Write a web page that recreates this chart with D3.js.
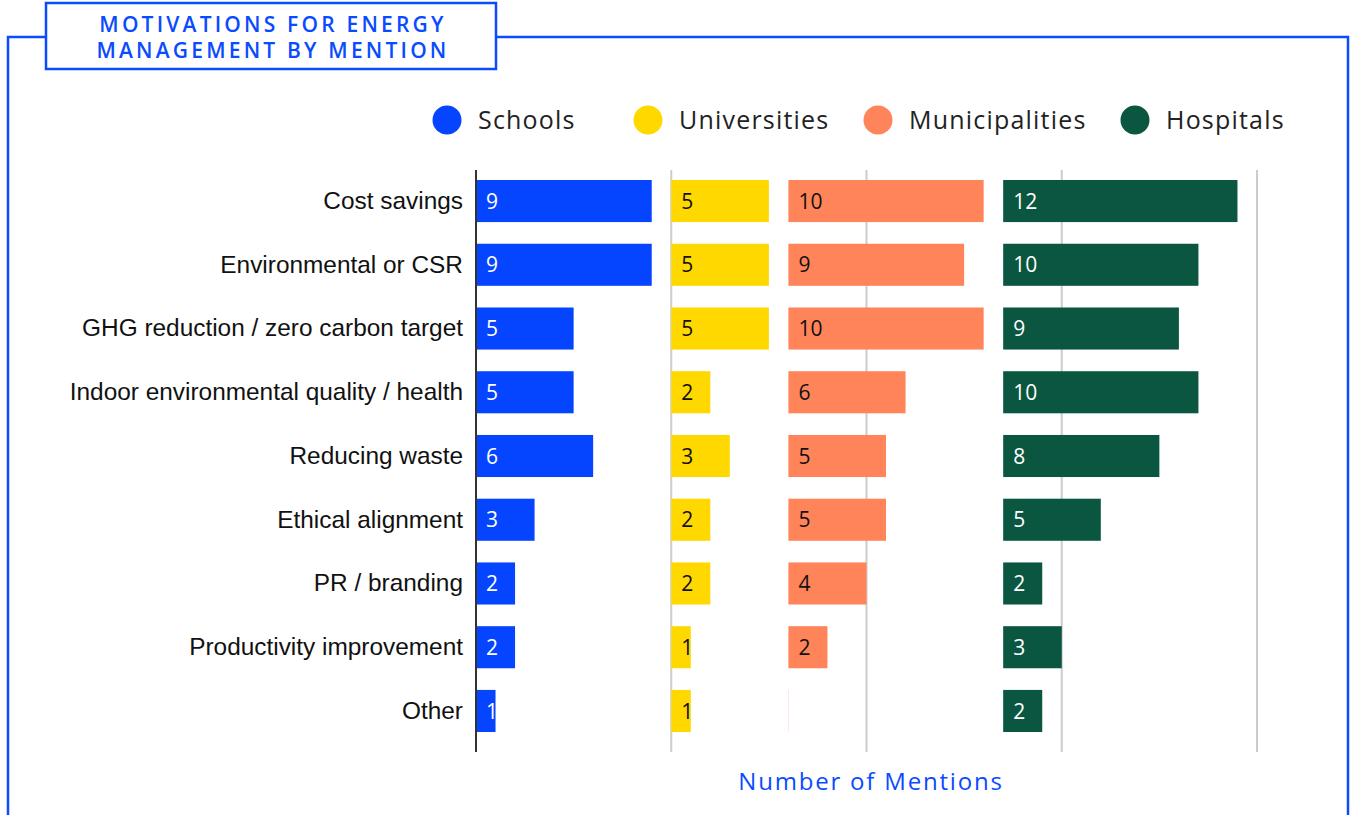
<!DOCTYPE html>
<html>
<head>
<meta charset="utf-8">
<script src="https://cdn.jsdelivr.net/npm/d3@7"></script>
<style>
  body { margin: 0; background: #fff; }
  svg { display: block; }
</style>
</head>
<body>
<svg class="chart"></svg>
<script>
const categories = [
  "Cost savings",
  "Environmental or CSR",
  "GHG reduction / zero carbon target",
  "Indoor environmental quality / health",
  "Reducing waste",
  "Ethical alignment",
  "PR / branding",
  "Productivity improvement",
  "Other"
]
const groups = ["Schools", "Universities", "Municipalities", "Hospitals"]
const schools = [9, 9, 5, 5, 6, 3, 2, 2, 1]
const universities = [5, 5, 5, 2, 3, 2, 2, 1, 1]
const municipalities = [10, 9, 10, 6, 5, 5, 4, 2, 0]
const hospitals = [12, 10, 9, 10, 8, 5, 2, 3, 2]
const xTicks = [0, 10, 20, 30, 40]

const colors = ["#0645ff", "#ffd800", "#ff845a", "#0b5640"]
const textColors = ["#fff", "#111", "#111", "#fff"]
const blue = "#0a4bff"

const width = 1351
const height = 815
const margin = {top: 170, left: 476, right: 94, bottom: 63}

const svg = d3.select(".chart")
  .attr("width", width)
  .attr("height", height)

// frame + title box
svg.append("path")
  .attr("d", `M8,815 V37 H1348 V815`)
  .attr("fill", "none")
  .attr("stroke", blue)
  .attr("stroke-width", 2.5)

svg.append("rect")
  .attr("x", 46).attr("y", 3)
  .attr("width", 450).attr("height", 66)
  .attr("fill", "#fff")
  .attr("stroke", blue)
  .attr("stroke-width", 2.5)

const titleLines = ["MOTIVATIONS FOR ENERGY", "MANAGEMENT BY MENTION"]
svg.append("g")
  .selectAll("text.title")
  .data(titleLines)
  .enter()
  .append("text")
  .classed("title", true)
  .attr("x", 273)
  .attr("y", (d, i) => 32 + i * 26)
  .attr("text-anchor", "middle")
  .attr("fill", blue)
  .style("font-family", "'Open Sans', sans-serif")
  .style("font-weight", 600)
  .style("font-size", "21px")
  .style("letter-spacing", "3.2px")
  .text(d => d)

// each group starts after the previous group's max + 1
const series = [schools, universities, municipalities, hospitals]
let offsets = []
let acc = 0
series.forEach(s => {
  offsets.push(acc)
  acc += d3.max(s) + 1
})

let data = []
series.forEach((s, gi) => {
  s.forEach((v, i) => {
    data.push({group: gi, category: categories[i], value: v, start: offsets[gi]})
  })
})

// Scales
const xScale = d3.scaleLinear()
  .domain([0, 40])
  .range([margin.left, width - margin.right])

const yScale = d3.scaleBand()
  .domain(categories)
  .range([margin.top, height - margin.bottom - 10])
  .paddingInner(0.34)
  .paddingOuter(0.157)

// gridlines
svg.append("g")
  .selectAll("line.grid")
  .data(xTicks.slice(1))
  .enter()
  .append("line")
  .classed("grid", true)
  .attr("x1", d => xScale(d))
  .attr("x2", d => xScale(d))
  .attr("y1", margin.top)
  .attr("y2", height - margin.bottom)
  .attr("stroke", "#cccccc")
  .attr("stroke-width", 2)

// bars
svg.append("g")
  .selectAll("rect.bar")
  .data(data)
  .enter()
  .append("rect")
  .classed("bar", true)
  .attr("x", d => xScale(d.start))
  .attr("y", d => yScale(d.category))
  .attr("width", d => Math.max(xScale(d.start + d.value) - xScale(d.start), d.value === 0 ? 0.6 : 0))
  .attr("height", yScale.bandwidth())
  .attr("fill", d => colors[d.group])
  .attr("opacity", d => d.value === 0 ? 0.3 : 1)

// bar labels
svg.append("g")
  .selectAll("text.val")
  .data(data.filter(d => d.value > 0))
  .enter()
  .append("text")
  .classed("val", true)
  .attr("x", d => xScale(d.start) + 10)
  .attr("y", d => yScale(d.category) + yScale.bandwidth() / 2)
  .attr("dy", "0.36em")
  .attr("fill", d => textColors[d.group])
  .style("font-family", "'Open Sans', sans-serif")
  .style("font-size", "21px")
  .text(d => d.value)

// y axis
const yAxis = svg.append("g")
  .attr("transform", `translate(${margin.left}, 0)`)
  .call(d3.axisLeft(yScale).tickSize(0).tickPadding(13))

yAxis.select(".domain")
  .attr("d", `M0,${margin.top}V${height - margin.bottom}`)
  .attr("stroke", "#333")
  .attr("stroke-width", 2)

yAxis.selectAll("text")
  .attr("fill", "#111")
  .style("font-family", "'Liberation Sans', Arial, sans-serif")
  .style("font-size", "24.4px")

// axis title
svg.append("text")
  .attr("x", 871)
  .attr("y", 790)
  .attr("text-anchor", "middle")
  .attr("fill", blue)
  .style("font-family", "'Open Sans', sans-serif")
  .style("font-size", "24px")
  .style("letter-spacing", "1.8px")
  .text("Number of Mentions")

// legend
const legendX = [447, 648, 878, 1135]
const legend = svg.append("g")
  .selectAll("g.legend")
  .data(groups)
  .enter()
  .append("g")
  .classed("legend", true)
  .attr("transform", (d, i) => `translate(${legendX[i]}, 120)`)

legend.append("circle")
  .attr("r", 14.5)
  .attr("fill", (d, i) => colors[i])

legend.append("text")
  .attr("x", 31)
  .attr("dy", "0.36em")
  .attr("fill", "#222")
  .style("font-family", "'Open Sans', sans-serif")
  .style("font-size", "25px")
  .style("letter-spacing", "1.2px")
  .text(d => d)
</script>
</body>
</html>
